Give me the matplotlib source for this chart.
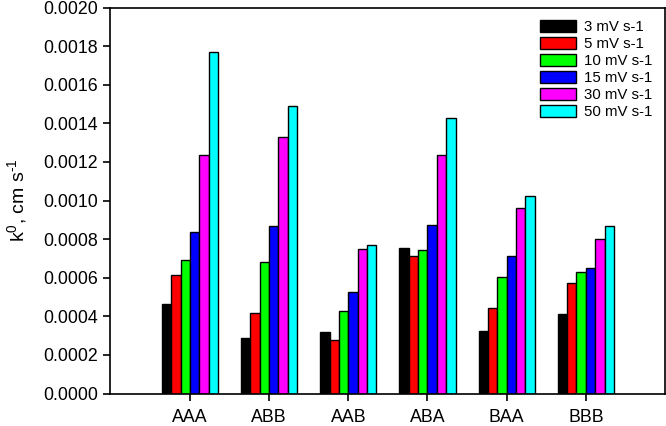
import matplotlib
matplotlib.use("Agg")
import matplotlib.pyplot as plt
import numpy as np

plt.rcParams['font.family'] = ['Liberation Sans', 'DejaVu Sans']
plt.rcParams['mathtext.fontset'] = 'custom'
plt.rcParams['mathtext.rm'] = 'Liberation Sans'
plt.rcParams['mathtext.it'] = 'Liberation Sans:italic'

categories = ["AAA", "ABB", "AAB", "ABA", "BAA", "BBB"]
series_labels = ["3 mV s-1", "5 mV s-1", "10 mV s-1", "15 mV s-1", "30 mV s-1", "50 mV s-1"]
v3 = [0.000464, 0.000290, 0.000317, 0.000753, 0.000326, 0.000412]
v5 = [0.000615, 0.000419, 0.000278, 0.000710, 0.000444, 0.000575]
v10 = [0.000693, 0.000679, 0.000426, 0.000741, 0.000604, 0.000627]
v15 = [0.000839, 0.000867, 0.000527, 0.000874, 0.000715, 0.000648]
v30 = [0.001236, 0.001329, 0.000748, 0.001236, 0.000959, 0.000803]
v50 = [0.001770, 0.001488, 0.000770, 0.001428, 0.001025, 0.000869]
series = [v3, v5, v10, v15, v30, v50]
colors = ["#000000", "#ff0000", "#00ff00", "#0000ff", "#ff00ff", "#00ffff"]
yticks = [0.0000, 0.0002, 0.0004, 0.0006, 0.0008, 0.0010, 0.0012, 0.0014, 0.0016, 0.0018, 0.0020]

fig = plt.figure(figsize=(6.66, 4.26), dpi=100)
ax = fig.add_axes([110/666, 1-393.5/426, 555/666, (393.5-7.5)/426])

x = np.arange(len(categories))
w = 0.118
for i, (vals, c, lab) in enumerate(zip(series, colors, series_labels)):
    ax.bar(x + (i - 2.5) * w, vals, width=w, color=c, edgecolor='black', linewidth=1.0, label=lab)

ax.set_xlim(-1.01, 6.0)
ax.set_ylim(0, 0.002)
ax.set_yticks(yticks)
ax.set_yticklabels([f"{t:.4f}" for t in yticks])
ax.set_xticks(x)
ax.set_xticklabels(categories)
ax.tick_params(axis='both', direction='out', length=5, width=1.2, labelsize=12.8, colors='black')
ax.tick_params(axis='x', pad=6)
for s in ax.spines.values():
    s.set_linewidth(1.2)
ax.set_ylabel("k$^{\\mathregular{0}}$, cm s$^{\\mathregular{\u2010}1}$", fontsize=14, labelpad=10)

leg = ax.legend(loc='upper right', bbox_to_anchor=(652/666, 1-20/426), bbox_transform=fig.transFigure,
                frameon=False, fontsize=10.8, handlelength=2.4, handleheight=0.8,
                handletextpad=0.5, labelspacing=0.2, borderpad=0, borderaxespad=0)

fig.savefig("out.png", dpi=100)
